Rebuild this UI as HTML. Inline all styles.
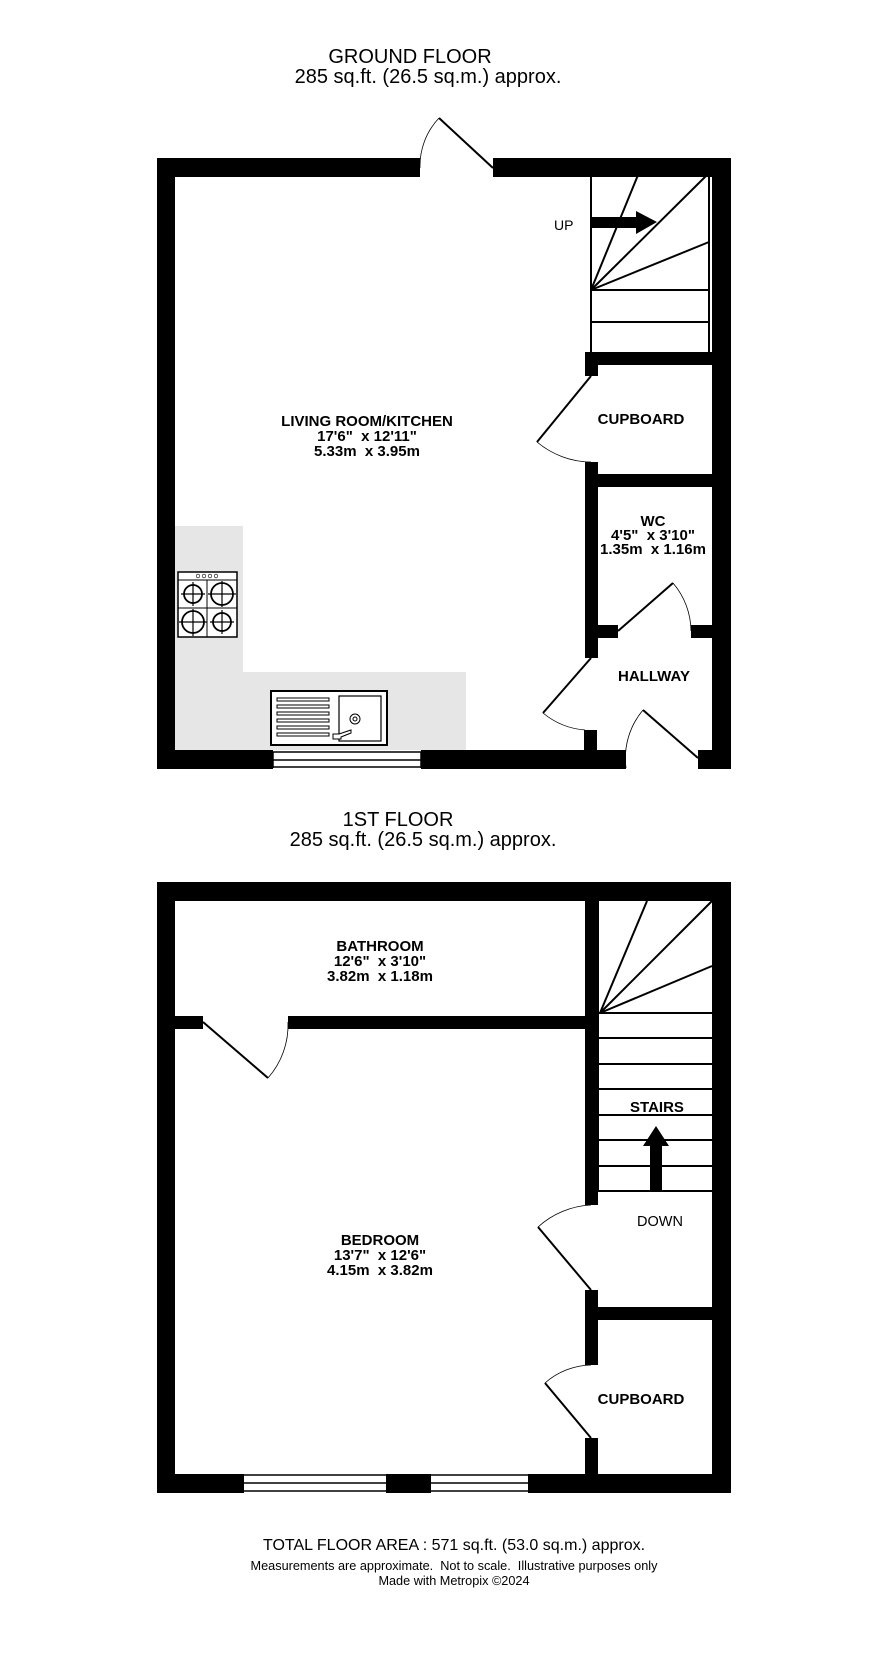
<!DOCTYPE html>
<html><head><style>
body{margin:0;background:#fff}
svg text{font-family:"Liberation Sans",sans-serif;white-space:pre}
.b{font-weight:bold;font-size:15px}
</style></head><body>
<svg width="886" height="1650" viewBox="0 0 886 1650" xmlns="http://www.w3.org/2000/svg" xml:space="preserve">
<g text-anchor="middle" fill="#000">
<text x="410" y="63" font-size="20">GROUND FLOOR</text>
<text x="428" y="83" font-size="20">285 sq.ft. (26.5 sq.m.) approx.</text>
<text x="398" y="826" font-size="20">1ST FLOOR</text>
<text x="423" y="846" font-size="20">285 sq.ft. (26.5 sq.m.) approx.</text>
<text x="454" y="1550" font-size="16">TOTAL FLOOR AREA : 571 sq.ft. (53.0 sq.m.) approx.</text>
<text x="454" y="1570" font-size="12.7">Measurements are approximate.  Not to scale.  Illustrative purposes only</text>
<text x="454" y="1585" font-size="12.7">Made with Metropix ©2024</text>
</g>
<g>
<path d="M168 526 H243 V672 H466 V750 H168 Z" fill="#e6e6e6"/>
<rect x="157" y="158" width="18" height="610"/>
<rect x="157" y="158" width="263" height="19"/>
<rect x="493" y="158" width="238" height="19"/>
<rect x="712" y="158" width="19" height="610"/>
<rect x="157" y="750" width="116" height="19"/>
<rect x="421" y="750" width="175" height="19"/>
<rect x="584" y="730" width="13" height="39"/>
<rect x="584" y="750" width="42" height="19"/>
<rect x="698" y="750" width="33" height="19"/>
<g fill="none" stroke="#000" stroke-width="1.5">
<line x1="273" y1="752" x2="421" y2="752"/><line x1="273" y1="760" x2="421" y2="760"/><line x1="273" y1="767" x2="421" y2="767"/>
<line x1="273" y1="752" x2="273" y2="768"/><line x1="421" y1="752" x2="421" y2="768"/>
</g>
<g fill="none" stroke="#000">
<line x1="493" y1="168" x2="439" y2="118" stroke-width="2"/>
<path d="M420 168 A 70 70 0 0 1 439 118" stroke-width="0.8"/>
</g>
<g fill="none" stroke="#000" stroke-width="2">
<line x1="591" y1="175" x2="591" y2="355"/><line x1="709" y1="175" x2="709" y2="355"/>
<line x1="591" y1="290" x2="638" y2="175"/><line x1="591" y1="290" x2="707" y2="175"/><line x1="591" y1="290" x2="709" y2="242"/>
<line x1="591" y1="290" x2="709" y2="290"/><line x1="591" y1="322" x2="709" y2="322"/>
</g>
<rect x="591" y="217" width="46" height="11"/>
<polygon points="636,211 657,222 636,234"/>
<text x="554" y="230" font-size="14">UP</text>
<rect x="585" y="352" width="131" height="13"/>
<rect x="585" y="352" width="13" height="24"/>
<rect x="585" y="462" width="13" height="196"/>
<rect x="585" y="474" width="131" height="13"/>
<rect x="585" y="625" width="33" height="13"/>
<rect x="691" y="625" width="25" height="13"/>
<g fill="none" stroke="#000">
<line x1="591" y1="376" x2="537" y2="442" stroke-width="2"/>
<path d="M537 442 A 85 85 0 0 0 591 462" stroke-width="0.8"/>
<line x1="618" y1="631" x2="673" y2="583" stroke-width="2"/>
<path d="M673 583 A 75 75 0 0 1 691 631" stroke-width="0.8"/>
<line x1="591" y1="658" x2="543" y2="713" stroke-width="2"/>
<path d="M543 713 A 75 75 0 0 0 585 730" stroke-width="0.8"/>
<line x1="643" y1="710" x2="698" y2="758" stroke-width="2"/>
<path d="M626 768 A 75 75 0 0 1 643 710" stroke-width="0.8"/>
</g>
<g fill="#fff" stroke="#000">
<rect x="178" y="572" width="59" height="65" stroke-width="1.5"/>
<line x1="178" y1="580" x2="237" y2="580"/>
<line x1="207" y1="580" x2="207" y2="637"/><line x1="178" y1="608" x2="237" y2="608"/>
<circle cx="193" cy="594" r="9" stroke-width="1.8"/><circle cx="222" cy="594" r="11" stroke-width="1.8"/>
<circle cx="193" cy="622" r="11" stroke-width="1.8"/><circle cx="222" cy="622" r="9" stroke-width="1.8"/>
<g stroke-width="1.2">
<line x1="181" y1="594" x2="205" y2="594"/><line x1="193" y1="582" x2="193" y2="606"/>
<line x1="208" y1="594" x2="236" y2="594"/><line x1="222" y1="581" x2="222" y2="607"/>
<line x1="179" y1="622" x2="207" y2="622"/><line x1="193" y1="609" x2="193" y2="636"/>
<line x1="210" y1="622" x2="234" y2="622"/><line x1="222" y1="610" x2="222" y2="634"/>
</g>
<circle cx="198" cy="576" r="1.8" stroke-width="0.6"/><circle cx="204" cy="576" r="1.8" stroke-width="0.6"/><circle cx="210" cy="576" r="1.8" stroke-width="0.6"/><circle cx="216" cy="576" r="1.8" stroke-width="0.6"/>
</g>
<g fill="#fff" stroke="#000">
<rect x="271" y="691" width="116" height="54" stroke-width="2"/>
<rect x="339" y="696" width="42" height="45" stroke-width="1.2"/>
<rect x="277" y="698" width="52" height="3"/><rect x="277" y="705" width="52" height="3"/><rect x="277" y="712" width="52" height="3"/><rect x="277" y="719" width="52" height="3"/><rect x="277" y="726" width="52" height="3"/><rect x="277" y="733" width="52" height="3"/>
<circle cx="355" cy="719" r="5"/><circle cx="355" cy="719" r="2"/>
<path d="M333 734 h6 l12 -4 v3 l-10 4 v2 h-8 z"/>
</g>
<g class="b" text-anchor="middle">
<text x="367" y="426">LIVING ROOM/KITCHEN</text>
<text x="367" y="441">17'6"  x 12'11"</text>
<text x="367" y="456">5.33m  x 3.95m</text>
<text x="641" y="424">CUPBOARD</text>
<text x="653" y="526">WC</text>
<text x="653" y="540">4'5"  x 3'10"</text>
<text x="653" y="554">1.35m  x 1.16m</text>
<text x="654" y="681">HALLWAY</text>
</g>
</g>
<g>
<rect x="157" y="882" width="18" height="610"/>
<rect x="157" y="882" width="574" height="19"/>
<rect x="712" y="882" width="19" height="610"/>
<rect x="157" y="1474" width="87" height="19"/>
<rect x="386" y="1474" width="45" height="19"/>
<rect x="528" y="1474" width="203" height="19"/>
<g fill="none" stroke="#000" stroke-width="1.5">
<line x1="244" y1="1475" x2="386" y2="1475"/><line x1="244" y1="1483" x2="386" y2="1483"/><line x1="244" y1="1491" x2="386" y2="1491"/>
<line x1="431" y1="1475" x2="528" y2="1475"/><line x1="431" y1="1483" x2="528" y2="1483"/><line x1="431" y1="1491" x2="528" y2="1491"/>
</g>
<rect x="157" y="1016" width="46" height="13"/>
<rect x="288" y="1016" width="310" height="13"/>
<rect x="585" y="900" width="13" height="305"/>
<rect x="585" y="1290" width="13" height="75"/>
<rect x="585" y="1307" width="131" height="13"/>
<rect x="585" y="1438" width="13" height="40"/>
<g fill="none" stroke="#000" stroke-width="2">
<line x1="598" y1="900" x2="598" y2="1190"/><line x1="713" y1="900" x2="713" y2="1190"/>
<line x1="600" y1="1013" x2="647" y2="901"/><line x1="600" y1="1013" x2="712" y2="901"/><line x1="600" y1="1013" x2="712" y2="966"/>
<line x1="598" y1="1013" x2="712" y2="1013"/><line x1="598" y1="1038" x2="712" y2="1038"/><line x1="598" y1="1064" x2="712" y2="1064"/>
<line x1="598" y1="1089" x2="712" y2="1089"/><line x1="598" y1="1115" x2="712" y2="1115"/><line x1="598" y1="1140" x2="712" y2="1140"/>
<line x1="598" y1="1166" x2="712" y2="1166"/><line x1="598" y1="1191" x2="712" y2="1191"/>
</g>
<rect x="650" y="1146" width="12" height="46"/>
<polygon points="656,1126 643,1146 669,1146"/>
<g fill="none" stroke="#000">
<line x1="203" y1="1022" x2="268" y2="1078" stroke-width="2"/>
<path d="M268 1078 A 80 80 0 0 0 288 1022" stroke-width="0.8"/>
<line x1="591" y1="1290" x2="538" y2="1227" stroke-width="2"/>
<path d="M538 1227 A 85 85 0 0 1 591 1205" stroke-width="0.8"/>
<line x1="591" y1="1438" x2="545" y2="1383" stroke-width="2"/>
<path d="M545 1383 A 72 72 0 0 1 591 1365" stroke-width="0.8"/>
</g>
<g class="b" text-anchor="middle">
<text x="380" y="951">BATHROOM</text>
<text x="380" y="966">12'6"  x 3'10"</text>
<text x="380" y="981">3.82m  x 1.18m</text>
<text x="657" y="1112">STAIRS</text>
<text x="380" y="1245">BEDROOM</text>
<text x="380" y="1260">13'7"  x 12'6"</text>
<text x="380" y="1275">4.15m  x 3.82m</text>
<text x="641" y="1404">CUPBOARD</text>
</g>
<text x="660" y="1226" font-size="14.5" text-anchor="middle">DOWN</text>
</g>
</svg>
</body></html>
